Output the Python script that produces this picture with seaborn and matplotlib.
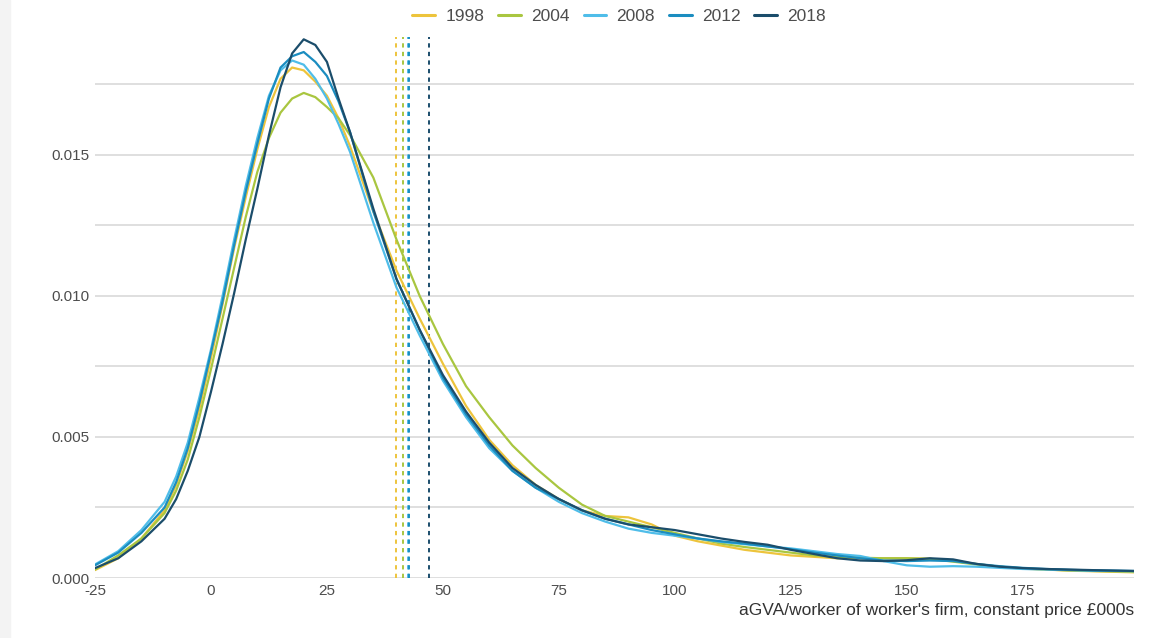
import numpy as np
import pandas as pd
import matplotlib
matplotlib.use("Agg")
import matplotlib.pyplot as plt
import seaborn as sns
from matplotlib.lines import Line2D
from matplotlib.patches import Rectangle

# aGVA/worker grid (£000s)
x_vals = [-25, -20, -15, -10, -7.5, -5, -2.5, 0, 2.5, 5, 7.5, 10, 12.5, 15, 17.5, 20, 22.5,
          25, 27.5, 30, 35, 40, 45, 50, 55, 60, 65, 70, 75, 80, 85, 90, 95, 100, 105, 110,
          115, 120, 125, 130, 135, 140, 145, 150, 155, 160, 165, 170, 175, 180, 185, 190, 199]

dens_1998 = [0.00028, 0.0007, 0.0014, 0.0024, 0.0033, 0.0045, 0.0060, 0.0078, 0.0097, 0.0117,
             0.0135, 0.0152, 0.0167, 0.0177, 0.0181, 0.0180, 0.0176, 0.0171, 0.0163, 0.0153,
             0.0130, 0.0109, 0.0092, 0.0076, 0.0061, 0.0049, 0.0040, 0.0033, 0.0028, 0.0024,
             0.0022, 0.00215, 0.0019, 0.0015, 0.0013, 0.00115, 0.0010, 0.0009, 0.0008, 0.00075,
             0.0007, 0.0007, 0.0007, 0.0007, 0.00068, 0.0006, 0.0005, 0.0004, 0.00033, 0.0003,
             0.00026, 0.00024, 0.0002]
dens_2004 = [0.0003, 0.0008, 0.0014, 0.0023, 0.0031, 0.0042, 0.0057, 0.0074, 0.0092, 0.0110,
             0.0128, 0.0144, 0.0156, 0.0165, 0.0170, 0.0172, 0.01705, 0.0167, 0.0163, 0.0157,
             0.0142, 0.0120, 0.0100, 0.0083, 0.0068, 0.0057, 0.0047, 0.0039, 0.0032, 0.0026,
             0.0022, 0.0020, 0.0018, 0.0016, 0.0014, 0.00122, 0.0011, 0.0010, 0.0009, 0.0008,
             0.00075, 0.00072, 0.0007, 0.0007, 0.00068, 0.00058, 0.00048, 0.0004, 0.00034, 0.0003,
             0.00027, 0.00025, 0.00022]
dens_2008 = [0.00048, 0.00095, 0.0017, 0.0027, 0.0036, 0.0048, 0.0064, 0.0081, 0.0100, 0.0120,
             0.0139, 0.0156, 0.0171, 0.0180, 0.01835, 0.0182, 0.0177, 0.0170, 0.0161, 0.0151,
             0.0126, 0.0103, 0.0086, 0.0070, 0.0057, 0.0046, 0.0038, 0.0032, 0.0027, 0.0023,
             0.0020, 0.00175, 0.0016, 0.0015, 0.0014, 0.00128, 0.0012, 0.00112, 0.00105, 0.00095,
             0.00085, 0.00078, 0.0006, 0.00045, 0.0004, 0.00042, 0.0004, 0.00036, 0.00032, 0.0003,
             0.00028, 0.00026, 0.00024]
dens_2012 = [0.00045, 0.0009, 0.0016, 0.0025, 0.0034, 0.0046, 0.0062, 0.0080, 0.0098, 0.0118,
             0.0137, 0.0154, 0.0170, 0.0181, 0.0185, 0.01865, 0.0183, 0.0178, 0.0169, 0.0158,
             0.0130, 0.0106, 0.0088, 0.0071, 0.0058, 0.0047, 0.0038, 0.0032, 0.0028, 0.0024,
             0.0021, 0.0019, 0.0017, 0.00155, 0.0014, 0.0013, 0.00122, 0.00112, 0.00102, 0.0009,
             0.0008, 0.0007, 0.00062, 0.0006, 0.00062, 0.0006, 0.0005, 0.00042, 0.00036, 0.00032,
             0.00029, 0.00027, 0.00025]
dens_2018 = [0.00035, 0.0007, 0.0013, 0.0021, 0.0028, 0.0038, 0.0050, 0.0066, 0.0083, 0.0101,
             0.0120, 0.0138, 0.0157, 0.0174, 0.0186, 0.0191, 0.0189, 0.0183, 0.0170, 0.0158,
             0.0131, 0.0106, 0.0088, 0.0072, 0.0059, 0.0048, 0.0039, 0.0033, 0.0028, 0.0024,
             0.0021, 0.0019, 0.0018, 0.0017, 0.00155, 0.0014, 0.00128, 0.00118, 0.0010, 0.00085,
             0.0007, 0.00062, 0.0006, 0.00063, 0.0007, 0.00066, 0.0005, 0.0004, 0.00035, 0.00032,
             0.0003, 0.00028, 0.00025]

years = ["1998", "2004", "2008", "2012", "2018"]
means = [39.9, 41.4, 42.4, 42.8, 46.9]
colours = ["#EDC43C", "#A9C640", "#4FBDE9", "#1B8DC0", "#1B4D6B"]

df = pd.concat([
    pd.DataFrame({"x": x_vals, "density": d, "year": y})
    for y, d in zip(years, [dens_1998, dens_2004, dens_2008, dens_2012, dens_2018])
])

sns.set_style("white")
plt.rcParams["font.family"] = ["Liberation Sans", "DejaVu Sans"]
plt.rcParams["axes.unicode_minus"] = False

fig = plt.figure(figsize=(11.51, 6.38), dpi=100)
fig.patches.append(Rectangle((0, 0), 10 / 1151, 1, transform=fig.transFigure,
                             color="#F3F3F3", zorder=0))
ax = fig.add_axes([95 / 1151, 1 - 578 / 638, (1134 - 95) / 1151, (578 - 36.5) / 638])

# gridlines
for g in np.arange(0, 0.0176, 0.0025):
    ax.axhline(g, color="#DCDCDC", lw=1.3, zorder=0)

pal = dict(zip(years, colours))
sns.lineplot(data=df, x="x", y="density", hue="year", palette=pal, lw=1.6,
             legend=False, ax=ax, zorder=3)

for m, c in zip(means, colours):
    ax.axvline(m, color=c, lw=1.4, ls=(0, (2.2, 2.2)), zorder=2)

ax.set_xlim(-25, 199)
ax.set_ylim(0, 0.0192)
ax.set_xticks([-25, 0, 25, 50, 75, 100, 125, 150, 175])
ax.set_yticks([0, 0.005, 0.010, 0.015])
ax.set_yticklabels(["0.000", "0.005", "0.010", "0.015"])
ax.tick_params(axis="both", length=0, labelsize=11, labelcolor="#4D4D4D", pad=4)
for s in ax.spines.values():
    s.set_visible(False)
ax.set_ylabel("")
ax.set_xlabel("aGVA/worker of worker's firm, constant price £000s", fontsize=12.5,
              color="#333333", loc="right", labelpad=4)

handles = [Line2D([0], [0], color=c, lw=2.2) for c in colours]
fig.legend(handles, years, loc="center", bbox_to_anchor=(0.538, 1 - 16 / 638), ncol=5,
           frameon=False, fontsize=12.5, handlelength=1.3, handletextpad=0.6,
           columnspacing=0.8, labelcolor="#4D4D4D")

fig.savefig("out.png", dpi=100)
